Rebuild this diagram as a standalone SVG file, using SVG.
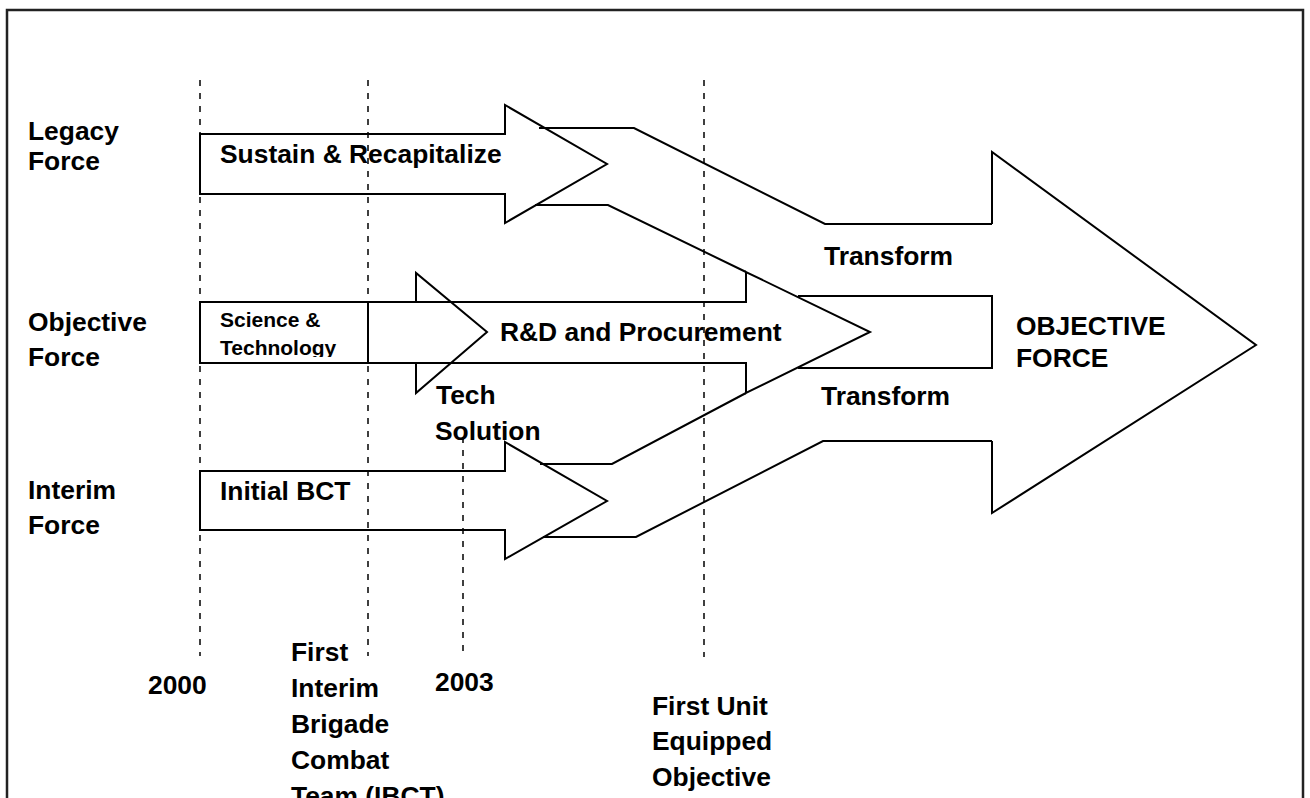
<svg xmlns="http://www.w3.org/2000/svg" width="1310" height="798" viewBox="0 0 1310 798">
<style>
.t{font-family:"Liberation Sans",Arial,sans-serif;font-weight:bold;font-size:26.4px;fill:#000}
.s{font-size:21px}
.ln{fill:none;stroke:#000;stroke-width:2;stroke-linejoin:miter}
.d{fill:none;stroke:#000;stroke-width:1.5;stroke-dasharray:6 7}
</style>
<defs>
<clipPath id="stclip"><rect x="200" y="302" width="168" height="55"/></clipPath>
</defs>
<rect x="7" y="10" width="1296" height="800" fill="#fff" stroke="#222" stroke-width="2.5"/>
<g id="timeline">
<line class="d" x1="200" y1="80" x2="200" y2="656"/>
<line class="d" x1="368" y1="80" x2="368" y2="656"/>
<line class="d" x1="463" y1="437" x2="463" y2="654"/>
<line class="d" x1="704" y1="80" x2="704" y2="657"/>
</g>
<g id="row-labels">
<text class="t" x="28" y="140">Legacy</text>
<text class="t" x="28" y="170">Force</text>
<text class="t" x="28" y="331">Objective</text>
<text class="t" x="28" y="366">Force</text>
<text class="t" x="28" y="499">Interim</text>
<text class="t" x="28" y="534">Force</text>
</g>
<g id="legacy">
<path class="ln" d="M200,134 L505,134 L505,105 L607,164 L505,223 L505,194 L200,194 Z"/>
<text class="t" x="220" y="163">Sustain &amp; Recapitalize</text>
</g>
<g id="science-technology">
<rect class="ln" x="200" y="302" width="168" height="61"/>
<g clip-path="url(#stclip)">
<text class="t s" x="220" y="327">Science &amp;</text>
<text class="t s" x="220" y="355">Technology</text>
</g>
</g>
<g id="rd-procurement">
<path class="ln" d="M368,302 L746,302 L746,272 L870,332 L746,393 L746,363 L368,363"/>
<text class="t" x="500" y="341">R&amp;D and Procurement</text>
</g>
<g id="tech-solution">
<polyline class="ln" points="416,302 416,273 487,332 416,393 416,363"/>
<text class="t" x="436" y="404">Tech</text>
<text class="t" x="435" y="440">Solution</text>
</g>
<g id="interim">
<path class="ln" d="M200,471 L505,471 L505,442 L607,501 L505,559 L505,530 L200,530 Z"/>
<text class="t" x="220" y="500">Initial BCT</text>
</g>
<g id="objective-force">
<polyline class="ln" points="992,224 992,152 1256,345 992,513 992,441"/>
<text class="t" x="1016" y="335">OBJECTIVE</text>
<text class="t" x="1016" y="367">FORCE</text>
</g>
<g id="connectors">
<polyline class="ln" points="539,128 634,128 825,224 992,224"/>
<polyline class="ln" points="535,205 608,205 746,272"/>
<polyline class="ln" points="798,296 992,296 992,368 798,368"/>
<polyline class="ln" points="540,464 612,464 746,393"/>
<polyline class="ln" points="543,537 636,537 823,441 992,441"/>
<text class="t" x="824" y="265">Transform</text>
<text class="t" x="821" y="405">Transform</text>
</g>
<g id="milestones">
<text class="t" x="148" y="694">2000</text>
<text class="t" x="291" y="661">First</text>
<text class="t" x="291" y="697">Interim</text>
<text class="t" x="291" y="733">Brigade</text>
<text class="t" x="291" y="769">Combat</text>
<text class="t" x="291" y="805">Team (IBCT)</text>
<text class="t" x="435" y="691">2003</text>
<text class="t" x="652" y="715">First Unit</text>
<text class="t" x="652" y="750">Equipped</text>
<text class="t" x="652" y="786">Objective</text>
</g>
</svg>
